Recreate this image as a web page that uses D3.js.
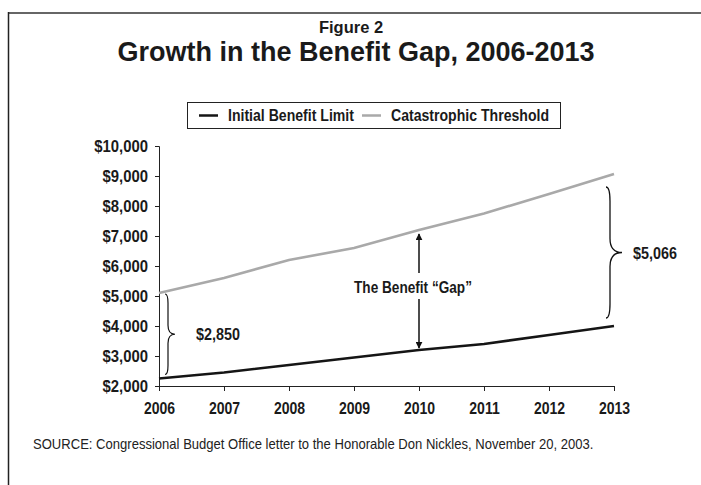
<!DOCTYPE html>
<html>
<head>
<meta charset="utf-8">
<script src="https://cdn.jsdelivr.net/npm/d3@7"></script>
<style>
  body { margin: 0; background: #fff; }
  svg { display: block; }
  text { font-family: "Liberation Sans", Arial, sans-serif; }
</style>
</head>
<body>
<div id="chart"></div>
<script>
// values
const years = [2006, 2007, 2008, 2009, 2010, 2011, 2012, 2013];
const initialLimit = [2250, 2450, 2700, 2950, 3200, 3400, 3700, 4000];
const catastrophic = [5100, 5600, 6200, 6600, 7200, 7750, 8400, 9066];
const yTicks = [2000, 3000, 4000, 5000, 6000, 7000, 8000, 9000, 10000];
const seriesNames = ["Initial Benefit Limit", "Catastrophic Threshold"];
const seriesColors = ["#151515", "#a9a9a9"];
const gapLabels = ["$2,850", "$5,066"];

const W = 701, H = 485;
const margin = { top: 146, right: 87, bottom: 99, left: 159 };
const width = W - margin.left - margin.right;
const height = H - margin.top - margin.bottom;

// the original uses a condensed face; squeeze Liberation Sans to match
function condense(sel, k) {
  sel.each(function () {
    const w = this.getComputedTextLength();
    d3.select(this).attr("textLength", w * k).attr("lengthAdjust", "spacingAndGlyphs");
  });
}

const svg = d3.select("#chart").append("svg")
  .attr("width", W)
  .attr("height", H);

// frame
svg.append("line").attr("x1", 8).attr("x2", W).attr("y1", 13).attr("y2", 13)
  .attr("stroke", "#666").attr("stroke-width", 2);
svg.append("line").attr("x1", 8.5).attr("x2", 8.5).attr("y1", 12).attr("y2", H)
  .attr("stroke", "#222").attr("stroke-width", 1.5);

// titles
svg.append("text").attr("x", 351).attr("y", 33)
  .attr("text-anchor", "middle")
  .style("font-weight", "bold").style("font-size", "16.5px")
  .attr("fill", "#1a1a1a")
  .text("Figure 2");
svg.append("text").attr("x", 356).attr("y", 61)
  .attr("text-anchor", "middle")
  .style("font-weight", "bold").style("font-size", "27px")
  .attr("fill", "#1a1a1a")
  .text("Growth in the Benefit Gap, 2006-2013");

// legend
const legend = svg.append("g");
legend.append("rect").attr("x", 187.5).attr("y", 102.5).attr("width", 373).attr("height", 26)
  .attr("fill", "none").attr("stroke", "#222").attr("stroke-width", 1);
const legendX = [199, 362];
seriesNames.forEach((name, i) => {
  legend.append("line")
    .attr("x1", legendX[i]).attr("x2", legendX[i] + 19)
    .attr("y1", 115.5).attr("y2", 115.5)
    .attr("stroke", seriesColors[i]).attr("stroke-width", 2.5);
  legend.append("text")
    .attr("x", legendX[i] + 29).attr("y", 121)
    .style("font-weight", "bold").style("font-size", "16px")
    .attr("fill", "#1a1a1a")
    .text(name)
    .call(condense, 0.88);
});

const g = svg.append("g").attr("transform", `translate(${margin.left},${margin.top})`);

const x = d3.scaleLinear().domain([2006, 2013]).range([0, width]);
const y = d3.scaleLinear().domain([2000, 10000]).range([height, 0]);

// x axis
const xAxis = g.append("g")
  .attr("transform", `translate(0,${height})`)
  .call(d3.axisBottom(x).tickValues(years).tickFormat(d3.format("d")).tickSize(5).tickPadding(11));
xAxis.select(".domain").attr("stroke", "#222");
xAxis.selectAll(".tick line").attr("stroke", "#222");
xAxis.selectAll("text")
  .style("font-family", "Liberation Sans, Arial, sans-serif")
  .style("font-weight", "bold").style("font-size", "16.5px").attr("fill", "#1a1a1a")
  .call(condense, 0.85);

// y axis
const yAxis = g.append("g")
  .call(d3.axisLeft(y).tickValues(yTicks).tickFormat(d => "$" + d3.format(",")(d)).tickSize(4).tickPadding(7));
yAxis.select(".domain").attr("stroke", "#222");
yAxis.selectAll(".tick line").attr("stroke", "#222");
yAxis.selectAll("text")
  .style("font-family", "Liberation Sans, Arial, sans-serif")
  .style("font-weight", "bold").style("font-size", "16.5px").attr("fill", "#1a1a1a")
  .call(condense, 0.9);

// lines
const line = d3.line()
  .x((d, i) => x(years[i]))
  .y(d => y(d));

[catastrophic, initialLimit].forEach((values, k) => {
  g.append("path")
    .datum(values)
    .attr("fill", "none")
    .attr("stroke", k === 0 ? seriesColors[1] : seriesColors[0])
    .attr("stroke-width", 2.6)
    .attr("d", line);
});

// curly brace pointing right
function brace(x0, x1, x2, yt, yb, r) {
  const ym = (yt + yb) / 2;
  return `M${x0},${yt} Q${x1},${yt} ${x1},${yt + r} L${x1},${ym - r} Q${x1},${ym} ${x2},${ym}`
    + ` Q${x1},${ym} ${x1},${ym + r} L${x1},${yb - r} Q${x1},${yb} ${x0},${yb}`;
}

const first = 0, last = years.length - 1;
const b1top = y(catastrophic[first]) + 1, b1bot = y(initialLimit[first]) - 4;
const b1x = x(years[first]) + 9;
g.append("path")
  .attr("d", brace(b1x - 3, b1x, b1x + 7, b1top, b1bot, 9))
  .attr("fill", "none").attr("stroke", "#111").attr("stroke-width", 1.2);
g.append("text")
  .attr("x", b1x + 28).attr("y", (b1top + b1bot) / 2 + 6)
  .style("font-weight", "bold").style("font-size", "16.5px").attr("fill", "#1a1a1a")
  .text(gapLabels[0])
  .call(condense, 0.87);

const b2top = y(catastrophic[last]) + 13, b2bot = y(initialLimit[last]) - 8;
const b2x = x(years[last]) - 4;
g.append("path")
  .attr("d", brace(b2x - 4, b2x, b2x + 12, b2top, b2bot, 14))
  .attr("fill", "none").attr("stroke", "#111").attr("stroke-width", 1.3);
g.append("text")
  .attr("x", b2x + 23).attr("y", (b2top + b2bot) / 2 + 6)
  .style("font-weight", "bold").style("font-size", "16.5px").attr("fill", "#1a1a1a")
  .text(gapLabels[1])
  .call(condense, 0.87);

// gap arrow at 2010
const mid = years.indexOf(2010);
const ax = x(years[mid]);
const aTop = y(catastrophic[mid]) + 4, aBot = y(initialLimit[mid]) - 2;
svg.append("defs").append("marker")
  .attr("id", "head").attr("viewBox", "0 0 10 10")
  .attr("refX", 9).attr("refY", 5)
  .attr("markerWidth", 7).attr("markerHeight", 7)
  .attr("markerUnits", "userSpaceOnUse")
  .attr("orient", "auto")
  .append("path").attr("d", "M0,0 L10,5 L0,10 z").attr("fill", "#111");
const textY = (aTop + aBot) / 2 - 3;
g.append("line").attr("x1", ax).attr("x2", ax).attr("y1", textY - 15).attr("y2", aTop)
  .attr("stroke", "#111").attr("stroke-width", 1.5).attr("marker-end", "url(#head)");
g.append("line").attr("x1", ax).attr("x2", ax).attr("y1", textY + 11).attr("y2", aBot)
  .attr("stroke", "#111").attr("stroke-width", 1.5).attr("marker-end", "url(#head)");
g.append("text")
  .attr("x", ax - 6).attr("y", textY + 5)
  .attr("text-anchor", "middle")
  .style("font-weight", "bold").style("font-size", "16px").attr("fill", "#1a1a1a")
  .text("The Benefit \u201cGap\u201d")
  .call(condense, 0.85);

// source
svg.append("text")
  .attr("x", 33).attr("y", 449)
  .style("font-size", "15px").attr("fill", "#222")
  .text("SOURCE: Congressional Budget Office letter to the Honorable Don Nickles, November 20, 2003.")
  .call(condense, 0.87);
</script>
</body>
</html>
